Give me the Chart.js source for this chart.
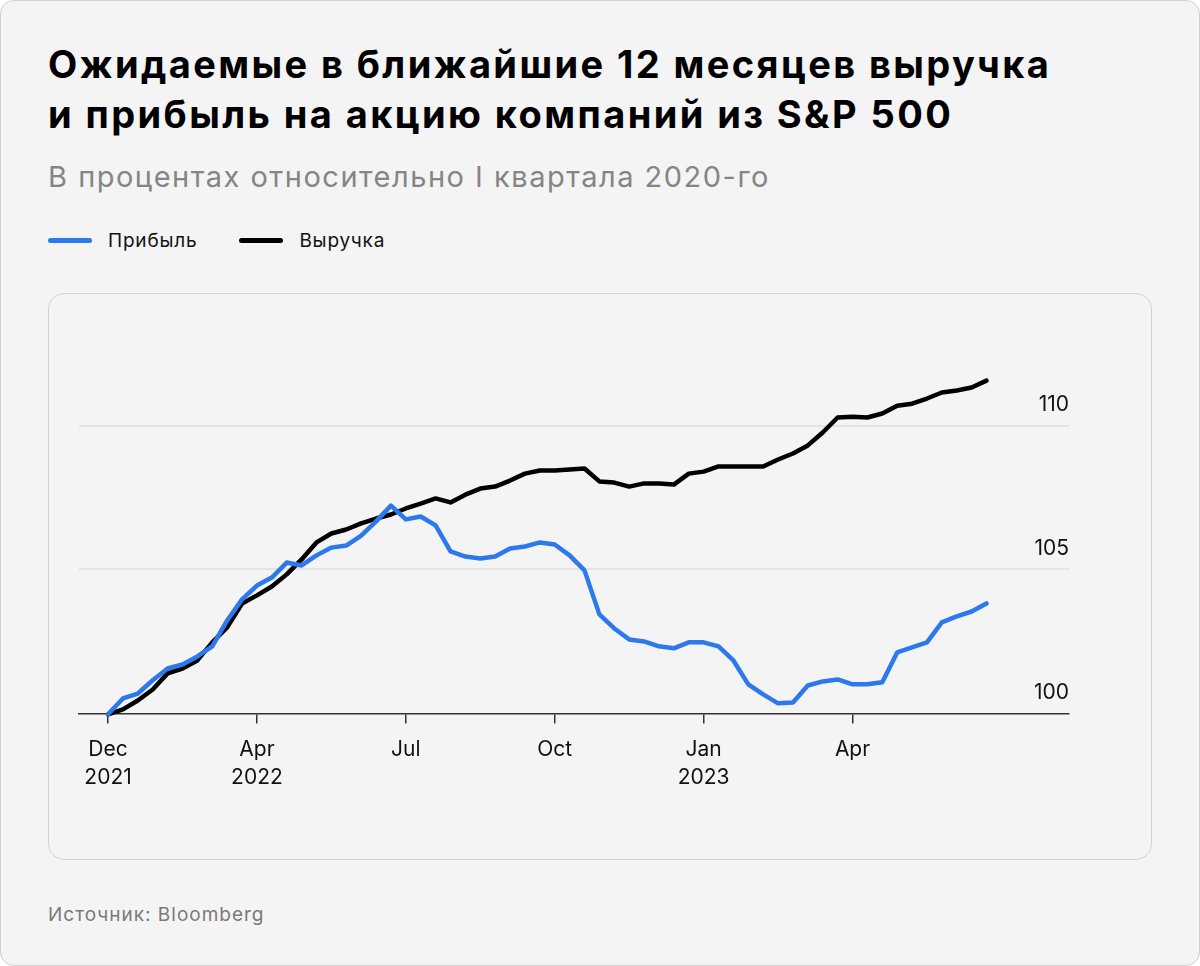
<!DOCTYPE html>
<html lang="ru">
<head>
<meta charset="utf-8">
<script src="https://cdn.jsdelivr.net/npm/chart.js@4.4.0/dist/chart.umd.min.js"></script>
<style>
    body { margin: 0; background: #fff; font-family: Inter, "Noto Sans", sans-serif; }
    .page { position: relative; width: 1198px; height: 964px; border: 1px solid #cfcfcf; border-radius: 14px; background: #f4f4f4; overflow: hidden; }
    h1 { position: absolute; left: 47px; top: 38px; margin: 0; font-size: 38px; line-height: 50px; font-weight: 700; letter-spacing: 2.4px; color: #000; white-space: nowrap; }
    .sub { position: absolute; left: 47px; top: 158px; font-size: 29px; letter-spacing: 1.5px; color: #858585; white-space: nowrap; }
    .legend { position: absolute; left: 47px; top: 228px; display: flex; font-size: 19px; letter-spacing: 0.8px; color: #111; }
    .item { display: flex; align-items: center; margin-right: 42px; }
    .sw { width: 44px; height: 5px; border-radius: 3px; margin-right: 16px; }
    .card { position: absolute; left: 47px; top: 292px; width: 1102px; height: 565px; border: 1px solid #d2d2d2; border-radius: 16px; }
    .card canvas { position: absolute; left: 0; top: 0; }
    .src { position: absolute; left: 47px; top: 902px; font-size: 19px; letter-spacing: 1px; color: #7a7a7a; }
</style>
</head>
<body>
<div class="page">
    <h1>Ожидаемые в ближайшие 12 месяцев выручка<br>и прибыль на акцию компаний из S&amp;P 500</h1>
    <div class="sub">В процентах относительно I квартала 2020-го</div>
    <div class="legend" id="legend"></div>
    <div class="card"><canvas id="chart" width="1102" height="565"></canvas></div>
    <div class="src">Источник: Bloomberg</div>
</div>
<script>
// x in quarters from Dec 2021, one point every ~9 days
const step = 0.1;
const xTicks = [0, 1, 2, 3, 4, 5];
const xTickLabels = [['Dec', '2021'], ['Apr', '2022'], ['Jul'], ['Oct'], ['Jan', '2023'], ['Apr']];
const yTicks = [100, 105, 110];

const seriesNames = ['Прибыль', 'Выручка'];
const seriesColors = ['#2b79ec', '#000000'];

// прибыль на акцию
const profit = [
    99.97, 100.52, 100.69, 101.15, 101.56, 101.70, 101.98, 102.33, 103.23, 103.96,
    104.44, 104.72, 105.24, 105.14, 105.49, 105.76, 105.83, 106.18, 106.67, 107.22,
    106.74, 106.84, 106.53, 105.63, 105.45, 105.38, 105.45, 105.73, 105.80, 105.94,
    105.87, 105.49, 104.97, 103.44, 102.95, 102.57, 102.50, 102.33, 102.26, 102.47,
    102.47, 102.33, 101.84, 101.01, 100.66, 100.35, 100.38, 100.97, 101.11, 101.18,
    101.01, 101.01, 101.08, 102.12, 102.29, 102.47, 103.16, 103.37, 103.54, 103.82
];

// выручка
const revenue = [
    99.97, 100.14, 100.45, 100.83, 101.39, 101.56, 101.84, 102.47, 102.99, 103.82,
    104.10, 104.41, 104.83, 105.35, 105.94, 106.25, 106.39, 106.60, 106.77, 106.91,
    107.12, 107.29, 107.47, 107.33, 107.60, 107.81, 107.88, 108.09, 108.33, 108.44,
    108.44, 108.47, 108.51, 108.06, 108.02, 107.88, 107.99, 107.99, 107.95, 108.33,
    108.40, 108.58, 108.58, 108.58, 108.58, 108.82, 109.03, 109.31, 109.76, 110.28,
    110.31, 110.28, 110.42, 110.69, 110.76, 110.94, 111.15, 111.22, 111.32, 111.56
];

const toPoints = arr => arr.map((v, i) => ({ x: i * step, y: v }));

// легенда
const legend = document.getElementById('legend');
seriesNames.forEach((name, i) => {
    const item = document.createElement('div');
    item.className = 'item';
    item.innerHTML = '<span class="sw" style="background:' + seriesColors[i] + '"></span>' + name;
    legend.appendChild(item);
});

const lineStyle = {
    borderWidth: 4.5,
    pointRadius: 0,
    tension: 0,
    borderJoinStyle: 'round',
    borderCapStyle: 'round',
    fill: false,
    clip: false
};

const ctx = document.getElementById('chart');
const myChart = new Chart(ctx, {
    type: 'line',
    data: {
        datasets: [
            Object.assign({ label: seriesNames[0], data: toPoints(profit), borderColor: seriesColors[0] }, lineStyle),
            Object.assign({ label: seriesNames[1], data: toPoints(revenue), borderColor: seriesColors[1] }, lineStyle)
        ]
    },
    options: {
        responsive: false,
        maintainAspectRatio: false,
        animation: false,
        layout: { padding: { left: 30, right: 82, top: 74, bottom: 55 } },
        plugins: { legend: { display: false }, tooltip: { enabled: false } },
        scales: {
            x: {
                type: 'linear',
                min: -0.195,
                max: 6.454,
                afterBuildTicks: axis => { axis.ticks = xTicks.map(v => ({ value: v })); },
                grid: { drawOnChartArea: false, drawTicks: true, tickLength: 10, color: '#333', lineWidth: 1.5 },
                border: { color: '#333', width: 1.5 },
                ticks: {
                    autoSkip: false,
                    maxRotation: 0,
                    padding: 13,
                    color: '#111',
                    font: { family: 'Inter', size: 21, lineHeight: 1.3 },
                    callback: (v, i) => xTickLabels[i]
                }
            },
            y: {
                position: 'right',
                min: 100,
                max: 112,
                afterBuildTicks: axis => { axis.ticks = yTicks.map(v => ({ value: v })); },
                grid: {
                    drawTicks: false,
                    lineWidth: 2,
                    color: c => (c.tick && c.tick.value === 100) ? 'rgba(0,0,0,0)' : '#e4e4e4'
                },
                border: { display: false },
                ticks: {
                    mirror: true,
                    padding: 0,
                    labelOffset: -21,
                    color: '#111',
                    font: { family: 'Inter', size: 21 }
                }
            }
        }
    }
});
</script>
</body>
</html>
